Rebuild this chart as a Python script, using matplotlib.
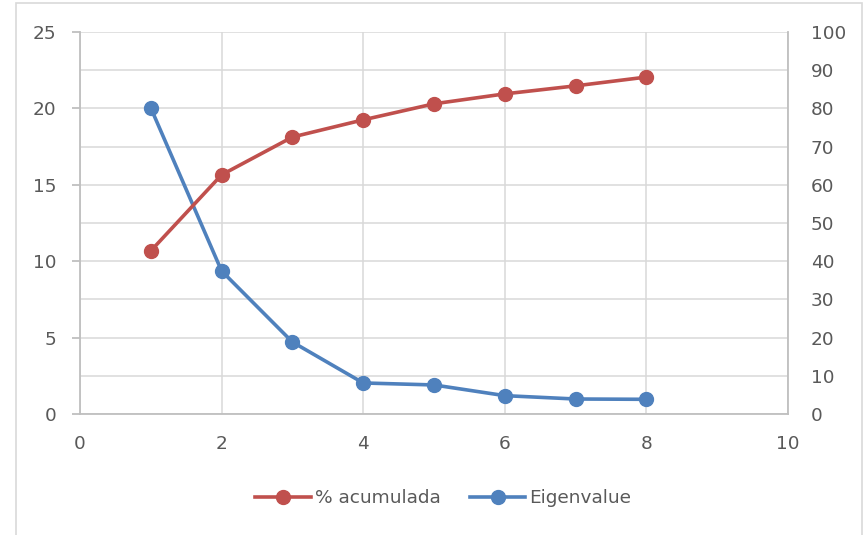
import numpy as np
import matplotlib.pyplot as plt
from matplotlib.patches import Rectangle
from matplotlib.lines import Line2D

plt.rcParams['font.family'] = ['DejaVu Sans']

## the data
componente = [1, 2, 3, 4, 5, 6, 7, 8]
eigenvalue = [20.03, 9.36, 4.71, 2.03, 1.90, 1.20, 0.98, 0.96]
acumulada = [42.7, 62.6, 72.5, 77.0, 81.2, 83.8, 85.9, 88.2]

rojo = '#C0504D'
azul = '#4F81BD'
gris_txt = '#595959'
gris_grid = '#D9D9D9'
gris_eje = '#BFBFBF'
fs = 13.3

fig = plt.figure(figsize=(8.64, 5.35), dpi=100)
ax = fig.add_axes([0.0926, 0.2262, 0.8194, 0.714])
ax2 = ax.twinx()

# outer chart frame
fig.patches.append(Rectangle((0.0185, -0.02), 0.979, 1.0144, transform=fig.transFigure,
                             fill=False, edgecolor=gris_grid, linewidth=1.2))

# grid on the primary axis
ax.set_xlim(0, 10)
ax.set_ylim(0, 25)
ax.set_xticks(np.arange(0, 11, 2))
ax.set_yticks(np.arange(0, 26, 5))
ax.set_yticks(np.arange(0, 26, 2.5), minor=True)
ax.grid(True, which='major', color=gris_grid, linewidth=1.1)
ax.grid(True, which='minor', axis='y', color=gris_grid, linewidth=1.1)
ax.set_axisbelow(True)

ax2.set_ylim(0, 100)
ax2.set_yticks(np.arange(0, 101, 10))

# axis lines: left/bottom from ax, right from ax2
ax.spines['top'].set_visible(False)
ax.spines['right'].set_visible(False)
for s in ('left', 'bottom'):
    ax.spines[s].set_color(gris_eje)
    ax.spines[s].set_linewidth(1.3)
for s in ('left', 'bottom', 'top'):
    ax2.spines[s].set_visible(False)
ax2.spines['right'].set_color(gris_eje)
ax2.spines['right'].set_linewidth(1.3)

ax.tick_params(axis='y', which='major', length=5.8, width=1.3, color=gris_eje,
               labelsize=fs, labelcolor=gris_txt, pad=11)
ax.tick_params(axis='y', which='minor', length=0)
ax.tick_params(axis='x', length=0, labelsize=fs, labelcolor=gris_txt, pad=15)
ax2.tick_params(axis='y', length=0, labelsize=fs, labelcolor=gris_txt, pad=16.5)

# the lines
ax2.plot(componente, acumulada, color=rojo, linewidth=2.6, marker='o',
         markersize=10, zorder=3)
ax.plot(componente, eigenvalue, color=azul, linewidth=2.6, marker='o',
        markersize=10, zorder=3)

h1 = Line2D([], [], color=rojo, linewidth=2.6, marker='o', markersize=10)
h2 = Line2D([], [], color=azul, linewidth=2.6, marker='o', markersize=10)
leg = fig.legend([h1, h2], ['% acumulada', 'Eigenvalue'], loc='center',
                 bbox_to_anchor=(0.513, 0.069), ncol=2, frameon=False,
                 fontsize=fs, handlelength=3.0, handletextpad=0.2, columnspacing=1.6)
for t in leg.get_texts():
    t.set_color(gris_txt)

fig.savefig('out.png', dpi=100)
